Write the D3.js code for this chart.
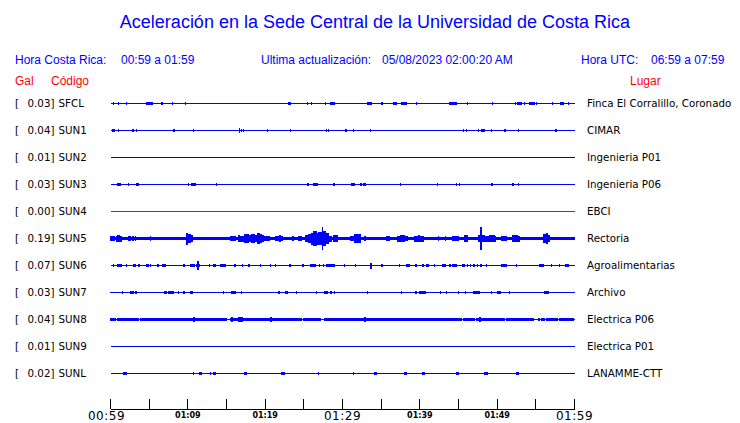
<!DOCTYPE html>
<html><head><meta charset="utf-8">
<script src="https://cdn.jsdelivr.net/npm/d3@7"></script>
<style>
html,body{margin:0;padding:0;background:#fff;}
svg{display:block;}
</style></head>
<body>
<svg id="chart" width="740" height="423"></svg>
<script>
// ---- data ----
const codes  = ["SFCL","SUN1","SUN2","SUN3","SUN4","SUN5","SUN6","SUN7","SUN8","SUN9","SUNL"];
const peakGal = ["0.03","0.04","0.01","0.03","0.00","0.19","0.07","0.03","0.04","0.01","0.02"];
const places = ["Finca El Corralillo, Coronado","CIMAR","Ingenieria P01","Ingenieria P06","EBCI","Rectoria",
                "Agroalimentarias","Archivo","Electrica P06","Electrica P01","LANAMME-CTT"];
// continuous noise half-amplitude (Gal) per station
const noiseGal = [0,0,0,0,0,0.033,0,0,0,0,0];
// events per station: [startMinute, endMinute, halfAmplitudeGal], minutes after 00:59
const evSFCL = [[0.43,0.43,.02],[1.08,1.08,.02],[2.1,2.1,.02],[4.65,5.42,.028],[6.6,6.75,.022],[8.04,8.04,.02],[9.72,9.72,.02],[15.8,15.8,.012],[17.85,17.85,.015],[19.1,19.1,.015],[23.0,23.25,.022],[25.5,25.5,.02],[26.0,26.0,.02],[27.8,27.8,.02],[28.4,28.9,.025],[32.5,32.5,.012],[33.3,33.8,.022],[35.1,35.1,.02],[35.8,35.8,.012],[36.6,37.0,.028],[37.7,38.2,.025],[39.6,39.6,.02],[39.9,39.9,.012],[43.9,44.7,.022],[46.2,46.2,.02],[49.4,49.4,.02],[50.9,50.9,.012],[52.35,52.35,.02],[52.6,53.1,.025],[53.55,53.55,.02],[54.15,54.85,.025],[55.1,55.1,.02],[57.2,57.2,.02],[58.2,58.5,.025],[59.2,59.2,.02],[59.75,59.75,.015]];
const evSUN1 = [[0.3,0.5,.022],[1.08,1.08,.02],[2.1,2.1,.012],[2.9,2.9,.02],[3.4,3.4,.02],[4.2,4.2,.012],[8.2,8.2,.02],[8.8,8.8,.012],[10.75,10.75,.02],[11.5,11.5,.012],[16.7,16.7,.035],[16.9,16.9,.025],[17.2,17.2,.022],[18.6,18.6,.012],[20.3,20.3,.02],[21.7,21.7,.012],[22.2,22.2,.015],[23.3,23.3,.02],[27.9,27.9,.02],[28.2,28.2,.018],[28.4,28.4,.012],[30.45,30.45,.02],[31.4,31.4,.02],[33.2,33.2,.012],[33.6,33.6,.02],[42.0,42.0,.015],[45.6,45.6,.02],[46.0,46.0,.018],[47.6,47.6,.02],[48.05,48.4,.022],[49.25,49.25,.02],[51.0,51.0,.02],[52.0,52.0,.012],[52.8,52.8,.02],[54.55,54.55,.012],[57.6,57.6,.018],[59.45,59.45,.012]];
const evSUN2 = [];
const evSUN3 = [[0.43,0.43,.015],[0.86,1.25,.022],[2.37,2.37,.02],[2.9,2.9,.012],[3.4,3.6,.022],[10.1,10.1,.02],[10.5,10.95,.03],[13.7,13.7,.02],[18.9,18.9,.012],[25.55,25.55,.018],[26.3,26.8,.022],[27.5,27.5,.012],[28.6,28.6,.015],[28.9,28.9,.028],[31.2,31.5,.022],[32.3,32.4,.02],[32.7,32.9,.02],[37.55,37.55,.02],[39.6,39.6,.012],[42.3,42.3,.02],[44.7,44.7,.02],[45.1,45.1,.02],[49.25,49.4,.02],[52.05,52.05,.018],[52.8,52.8,.018]];
const evSUN4 = [];
const evSUN5 = [[0,0.5,.045],[0.8,0.95,.05],[0.95,1.2,.065],[1.2,1.4,.05],[2.4,2.55,.04],[2.9,2.9,.04],[3.2,3.2,.04],[5.2,5.2,.036],[9.85,9.95,.1],[9.95,10.3,.07],[10.3,10.6,.055],[15.5,16.2,.04],[16.5,16.7,.06],[16.7,17.2,.05],[17.4,17.8,.07],[17.8,18.2,.06],[18.2,18.6,.075],[18.6,19.0,.065],[19.0,19.2,.09],[19.2,19.5,.07],[19.5,19.8,.06],[19.9,20.6,.045],[21.3,22.2,.045],[21.9,22.0,.055],[23.6,23.6,.04],[24.3,24.7,.045],[25.2,25.6,.055],[25.6,26.0,.075],[26.0,26.3,.1],[26.3,26.6,.12],[26.6,26.9,.1],[26.9,27.3,.115],[27.38,27.45,.19],[27.5,27.8,.13],[27.8,28.2,.085],[28.2,28.5,.05],[28.8,29.4,.06],[31.0,31.35,.045],[31.6,32.25,.07],[32.9,32.9,.04],[35.7,36.0,.045],[37.1,37.5,.05],[37.5,38.0,.055],[38.0,38.4,.045],[39.3,40.4,.05],[39.9,40.0,.065],[42.4,42.4,.04],[43.3,43.3,.04],[44.3,45.0,.045],[45.8,46.15,.055],[47.6,47.9,.06],[47.92,47.98,.19],[48.0,48.3,.065],[48.4,49.0,.05],[49.0,49.6,.06],[49.6,49.8,.05],[50.6,51.2,.04],[52.05,52.3,.055],[52.3,52.6,.065],[52.6,52.9,.05],[56.05,56.4,.07],[56.4,56.55,.095],[56.55,56.8,.06]];
const evSUN6 = [[0.43,0.43,.018],[0.95,1.4,.022],[2.1,2.1,.018],[3.0,3.2,.02],[3.6,3.8,.033],[4.3,4.3,.015],[4.7,4.85,.022],[5.2,5.2,.022],[6.1,6.25,.02],[6.7,7.1,.03],[7.65,7.65,.015],[9.5,9.5,.022],[10.35,10.8,.028],[11.1,11.5,.03],[11.27,11.33,.07],[12.8,12.8,.018],[13.3,13.6,.03],[14.3,14.6,.022],[14.7,14.9,.02],[15.3,15.3,.015],[16.1,16.1,.033],[17.1,17.1,.018],[17.9,18.0,.03],[19.35,19.35,.018],[20.4,20.4,.015],[20.65,20.65,.018],[21.3,21.3,.022],[22.6,22.6,.015],[23.2,23.2,.018],[24.9,24.9,.02],[25.9,26.5,.022],[27.0,27.0,.018],[27.5,27.5,.03],[27.95,28.25,.022],[28.5,28.95,.022],[29.7,29.7,.015],[30.3,30.3,.033],[31.7,31.7,.028],[33.6,33.8,.05],[35.1,35.1,.028],[36.0,36.0,.015],[37.4,37.4,.018],[38.3,38.6,.025],[39.5,39.5,.018],[40.4,40.4,.018],[40.9,41.1,.02],[41.85,41.85,.018],[43.0,43.3,.02],[43.9,44.0,.02],[44.3,44.7,.022],[45.5,45.8,.02],[46.2,46.2,.02],[46.6,46.6,.02],[47.0,47.0,.02],[47.5,47.5,.02],[47.9,47.9,.022],[48.6,48.6,.018],[50.6,50.75,.02],[51.0,51.2,.02],[52.5,52.5,.018],[53.1,53.1,.012],[54.1,54.1,.015],[55.5,56.0,.022],[57.0,57.0,.018],[57.6,57.6,.015],[58.1,58.1,.018],[58.8,59.15,.022],[59.8,59.8,.015]];
const evSUN7 = [[0,0.2,.012],[0.86,0.86,.012],[1.6,1.6,.018],[2.6,2.9,.022],[3.3,3.3,.018],[4.2,4.2,.012],[6.4,6.4,.012],[7.0,7.2,.022],[7.5,8.1,.022],[8.8,8.8,.018],[9.5,9.5,.018],[10.3,10.6,.02],[14.6,14.6,.018],[15.1,15.1,.012],[15.6,16.1,.022],[16.9,16.9,.03],[21.5,21.5,.015],[21.7,21.8,.022],[22.7,22.9,.022],[24.1,24.1,.02],[26.6,26.6,.018],[27.7,28.1,.022],[28.4,28.6,.02],[29.0,29.0,.02],[30.3,30.3,.012],[33.2,33.2,.018],[35.9,35.9,.01],[37.6,37.6,.02],[39.5,39.5,.018],[40.0,40.7,.022],[42.7,42.7,.02],[43.4,43.4,.02],[44.95,44.95,.018],[45.95,45.95,.02],[47.0,47.75,.025],[47.3,47.4,.03],[49.25,49.25,.02],[50.1,50.45,.022],[51.6,51.6,.018],[53.55,53.55,.012],[54.85,54.85,.012],[56.1,56.6,.018]];
const evSUN8 = [[0,0.65,.025],[0.86,3.65,.022],[3.9,4.4,.022],[4.6,8.6,.022],[8.8,9.25,.022],[9.45,15.05,.022],[15.5,21.7,.022],[21.8,23.0,.022],[23.1,24.65,.022],[24.95,27.1,.022],[27.65,29.55,.022],[29.7,35.9,.022],[36.1,43.66,.022],[43.87,45.38,.022],[45.6,47.1,.022],[47.3,50.3,.022],[50.45,50.97,.022],[51.2,52.35,.022],[52.5,53.34,.022],[53.55,54.63,.022],[55.3,55.5,.02],[55.7,56.1,.02],[56.35,57.0,.02],[57.2,57.85,.02],[58.07,58.3,.02],[58.5,58.7,.02],[58.9,59.15,.02],[59.35,59.8,.02],
  [10.7,10.8,.04],[15.65,15.75,.035],[16.5,17.1,.04],[17.7,17.8,.03],[20.0,20.4,.03],[20.75,20.85,.035],[25.35,25.45,.03],[32.85,32.95,.04],[38.75,38.85,.03],[47.7,47.8,.035]];
const evSUN9 = [[21.5,21.5,.012],[26.6,26.6,.012],[28.95,28.95,.012],[32.9,32.9,.012]];
const evSUNL = [[0.95,0.95,.015],[1.7,2.1,.022],[5.45,5.45,.012],[7.45,7.45,.015],[8.7,8.7,.015],[8.9,8.9,.015],[10.75,10.75,.018],[11.5,11.8,.02],[12.0,12.0,.015],[12.95,12.95,.018],[13.3,13.55,.018],[13.8,13.8,.015],[14.7,14.7,.015],[15.4,15.4,.015],[15.6,15.6,.015],[17.4,17.6,.018],[19.4,19.4,.012],[20.9,20.9,.015],[21.9,21.9,.015],[22.1,22.5,.022],[25.1,25.1,.015],[25.3,25.3,.015],[26.9,26.9,.018],[28.8,28.8,.015],[31.4,31.4,.02],[32.5,32.5,.012],[34.1,34.4,.02],[35.2,35.2,.015],[38.05,38.3,.02],[40.4,40.6,.018],[40.95,40.95,.015],[42.3,42.3,.012],[43.9,43.9,.015],[44.1,44.1,.015],[44.7,45.0,.022],[47.3,47.3,.015],[48.4,48.7,.022],[51.4,51.4,.015],[52.5,52.7,.018],[57.85,57.85,.015],[58.2,58.2,.015],[59.45,59.45,.012]];
const events = [evSFCL,evSUN1,evSUN2,evSUN3,evSUN4,evSUN5,evSUN6,evSUN7,evSUN8,evSUN9,evSUNL];
const tickMinutes = [0,5,10,15,20,25,30,35,40,45,50,55,60];
const tickLabels = {0:"00:59",10:"01:09",20:"01:19",30:"01:29",40:"01:39",50:"01:49",60:"01:59"};
const majorTicks = [0,30,60];

// ---- drawing ----
const svg = d3.select("#chart");
const BLUE = "#0000ff";
const x = d3.scaleLinear().domain([0,60]).range([110.5,574.5]);
const row = d3.scalePoint().domain(codes).range([103.5,373.5]);
const amp = d3.scaleLinear().domain([-0.2,0.2]).range([12,-12]);

svg.append("text").attr("x",375).attr("y",28).attr("text-anchor","middle")
  .attr("font-family","Liberation Sans, Arial, sans-serif").attr("font-size",18).attr("fill",BLUE)
  .text("Aceleración en la Sede Central de la Universidad de Costa Rica");

const hdr = svg.append("g").attr("font-family","Liberation Sans, Arial, sans-serif").attr("font-size",12).attr("fill",BLUE);
[[15,"Hora Costa Rica:"],[121,"00:59 a 01:59"],[261,"Ultima actualización:"],[382,"05/08/2023 02:00:20 AM"],[581,"Hora UTC:"],[651,"06:59 a 07:59"]]
  .forEach(d=>hdr.append("text").attr("x",d[0]).attr("y",64).text(d[1]));
const red = svg.append("g").attr("font-family","Liberation Sans, Arial, sans-serif").attr("font-size",12).attr("fill","#ff0000");
[[15,"Gal"],[51,"Código"],[630,"Lugar"]].forEach(d=>red.append("text").attr("x",d[0]).attr("y",85).text(d[1]));

const rows = svg.selectAll("g.row").data(codes).join("g").attr("class","row")
  .attr("transform",d=>`translate(0,${row(d)})`);

rows.each(function(code,i){
  const g = d3.select(this);
  const lab = g.append("g").attr("font-family","DejaVu Sans, sans-serif").attr("font-size",10.3).attr("fill","#000");
  lab.append("text").attr("x",15).attr("dy","0.36em").text("[");
  lab.append("text").attr("x",54.5).attr("dy","0.36em").attr("text-anchor","end").text(peakGal[i]+"]");
  lab.append("text").attr("x",58.5).attr("dy","0.36em").text(code);
  lab.append("text").attr("x",587).attr("dy","0.36em").text(places[i]);
  const col = code==="SUN4" ? "#ff0000" : BLUE;
  g.append("line").attr("x1",x(0)).attr("x2",x(60)).attr("y1",0).attr("y2",0)
    .attr("stroke",col).attr("stroke-width",1).attr("shape-rendering","crispEdges");
  if(noiseGal[i]>0){
    g.append("rect").attr("x",x(0)).attr("width",x(60)-x(0))
      .attr("y",amp(noiseGal[i])).attr("height",amp(-noiseGal[i])-amp(noiseGal[i]))
      .attr("fill",col).attr("shape-rendering","crispEdges");
  }
  g.selectAll("rect.ev").data(events[i]).join("rect").attr("class","ev")
    .attr("x",d=>x(d[0])-0.6).attr("width",d=>Math.max(1.2,x(d[1])-x(d[0])+1.2))
    .attr("y",d=>amp(d[2])).attr("height",d=>amp(-d[2])-amp(d[2]))
    .attr("fill",col).attr("shape-rendering","crispEdges");
});

// axis
const ax = svg.append("g").attr("transform","translate(0,409)");
ax.append("line").attr("x1",x(0)).attr("x2",x(60)).attr("stroke","#000").attr("shape-rendering","crispEdges");
ax.selectAll("line.t").data(tickMinutes).join("line").attr("class","t")
  .attr("x1",d=>x(d)).attr("x2",d=>x(d)).attr("y1",-10).attr("y2",0)
  .attr("stroke","#000").attr("shape-rendering","crispEdges");
ax.selectAll("text").data(Object.keys(tickLabels).map(Number)).join("text")
  .attr("x",d=>x(d) - (d===0?4:0))
  .attr("y",d=>majorTicks.includes(d)?11:9)
  .attr("text-anchor","middle")
  .attr("font-family","DejaVu Sans, sans-serif")
  .attr("font-size",d=>majorTicks.includes(d)?12:8)
  .attr("font-weight",d=>majorTicks.includes(d)?"normal":"bold")
  .attr("letter-spacing",d=>majorTicks.includes(d)?"0.5":"0")
  .text(d=>tickLabels[d]);
</script>
</body></html>
